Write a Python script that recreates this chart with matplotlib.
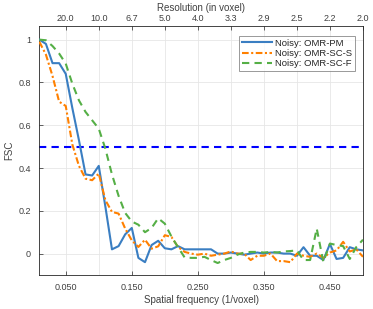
import numpy as np
import matplotlib
matplotlib.use("Agg")
import matplotlib.pyplot as plt

plt.rcParams['font.family'] = ['Liberation Sans', 'DejaVu Sans']

freq = [round(0.01 * k, 2) for k in range(1, 51)]

fsc_pm = [1.00, 0.98, 0.89, 0.89, 0.84, 0.68, 0.53, 0.37, 0.365, 0.41,
          0.22, 0.02, 0.035, 0.09, 0.12, -0.02, -0.04, 0.04, 0.06, 0.025,
          0.02, 0.035, 0.02, 0.02, 0.02, 0.02, 0.02, 0.0, 0.0, 0.005,
          0.0, -0.005, 0.0, 0.005, 0.0, 0.005, 0.005, 0.0, 0.0, -0.01,
          0.03, -0.01, -0.01, -0.03, 0.045, -0.025, -0.02, 0.03, 0.02, 0.015]

fsc_sc_s = [0.99, 0.93, 0.83, 0.71, 0.69, 0.51, 0.41, 0.35, 0.343, 0.374,
            0.25, 0.195, 0.187, 0.117, 0.062, 0.031, 0.065, 0.023, 0.034, 0.086,
            0.078, 0.031, 0.008, 0.0, -0.005, 0.0, -0.01, -0.005, 0.0, 0.01,
            0.0, 0.0, -0.03, -0.01, -0.01, 0.0, -0.035, -0.035, -0.04, 0.0,
            -0.01, -0.015, 0.0, -0.02, 0.005, 0.015, 0.055, 0.01, 0.02, -0.015]

fsc_sc_f = [1.00, 0.997, 0.97, 0.935, 0.888, 0.794, 0.716, 0.662, 0.623, 0.584,
            0.49, 0.37, 0.27, 0.19, 0.15, 0.135, 0.10, 0.12, 0.165, 0.14,
            0.08, 0.03, -0.018, -0.02, -0.02, -0.015, -0.03, -0.044, -0.03, -0.02,
            -0.005, 0.005, 0.008, 0.008, 0.005, 0.008, 0.005, 0.01, 0.012, 0.015,
            -0.03, -0.03, 0.117, -0.039, 0.047, 0.04, 0.035, -0.025, 0.031, 0.065]

threshold = 0.5
names = ['Noisy: OMR-PM', 'Noisy: OMR-SC-S', 'Noisy: OMR-SC-F']
bottom_ticks = [0.05, 0.15, 0.25, 0.35, 0.45]
top_ticks = [0.05, 0.10, 0.15, 0.20, 0.25, 0.30, 0.35, 0.40, 0.45, 0.50]
y_ticks = [0, 0.2, 0.4, 0.6, 0.8, 1.0]
y_labels = ['0', '0.2', '0.4', '0.6', '0.8', '1']

fig = plt.figure(figsize=(3.73, 3.09), dpi=100)
ax = fig.add_axes([0.1054, 0.110, 0.8677, 0.8068])

spine_c = '#262626'
text_c = '#404040'
ax.plot(freq, fsc_pm, color='#3a7ec2', lw=1.5, ls='-', label=names[0], zorder=3)
ax.plot(freq, fsc_sc_s, color='#ff8000', lw=1.5, ls=(0, (3.2, 1.2, 1.0, 1.2)), label=names[1], zorder=3)
ax.plot(freq, fsc_sc_f, color='#55af46', lw=1.5, ls=(0, (3.5, 2.5)), label=names[2], zorder=3)
ax.axhline(threshold, color='#0000ff', lw=1.5, ls=(0, (3.5, 2.5)), zorder=2)

ax.set_xlim(0.01, 0.5)
ax.set_ylim(-0.1, 1.065)
ax.set_xticks(bottom_ticks)
ax.set_xticklabels(['%.3f' % t for t in bottom_ticks])
ax.set_xticks([0.1, 0.2, 0.3, 0.4, 0.5], minor=True)
ax.set_yticks(y_ticks)
ax.set_yticklabels(y_labels)
ax.tick_params(axis='both', which='major', direction='in', length=3, width=0.5,
               labelsize=6.5, color=spine_c, labelcolor=text_c, pad=6)
ax.tick_params(axis='x', which='minor', length=0)
ax.grid(True, which='both', color='#e6e6e6', lw=0.6, zorder=0)
ax.set_axisbelow(True)
for s in ax.spines.values():
    s.set_color(spine_c)
    s.set_linewidth(0.6)

ax.set_xlabel('Spatial frequency (1/voxel)', fontsize=7, color=text_c, labelpad=2)
ax.set_ylabel('FSC', fontsize=7, color=text_c, labelpad=3)

ax2 = ax.twiny()
ax2.set_xlim(ax.get_xlim())
ax2.set_xticks(top_ticks)
ax2.set_xticklabels(['%.1f' % (1.0 / t) for t in top_ticks])
ax2.tick_params(axis='x', direction='in', length=3, width=0.5, labelsize=6.5,
                color=spine_c, labelcolor=text_c, pad=2)
ax2.set_xlabel('Resolution (in voxel)', fontsize=7, color=text_c, labelpad=2)
for s in ax2.spines.values():
    s.set_visible(False)

leg = ax.legend(loc='upper right', bbox_to_anchor=(0.975, 0.96), fontsize=6.8,
                frameon=True, fancybox=False, edgecolor='#808080', borderaxespad=0,
                handlelength=3.2, handletextpad=0.3, borderpad=0.3, labelspacing=0.15)
leg.get_frame().set_linewidth(0.7)
for t in leg.get_texts():
    t.set_color(spine_c)

fig.savefig('out.png', dpi=100)
